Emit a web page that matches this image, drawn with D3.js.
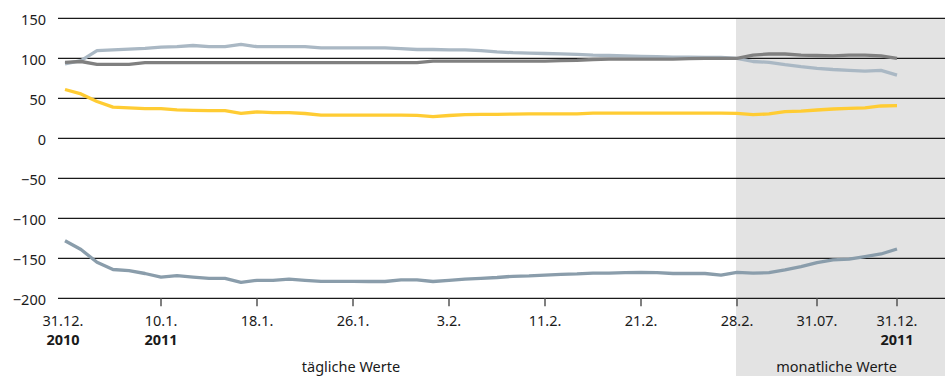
<!DOCTYPE html>
<html>
<head>
<meta charset="utf-8">
<script src="https://cdn.jsdelivr.net/npm/d3@7"></script>
<style>
body { margin: 0; background: #fff; }
svg text { font-family: "Noto Sans", "Open Sans", sans-serif; font-size: 14.5px; fill: #1a1a1a; }
</style>
</head>
<body>
<svg id="chart" width="945" height="376"></svg>
<script>
// 0..41 daily values (31.12.2010 - 28.2.2011), 42..52 monthly values (28.2. - 31.12.2011)
const lightSeries = [93, 97, 109.5, 110.5, 111.5, 112.5, 114, 114.5, 116, 114.5, 114.5, 117.5, 114.5, 114.5, 114.5, 114.5, 113, 113, 113, 113, 113, 112, 111, 111, 110.5, 110.5, 109.5, 108, 107, 106.5, 106, 105.5, 105, 104, 103.5, 103, 102.5, 102, 101.5, 101.5, 101, 101, 100, 96, 95, 92, 89.5, 87.5, 86, 85, 84, 85, 79];
const darkSeries = [95, 96, 92.5, 92.5, 92.5, 94.5, 94.5, 94.5, 94.5, 94.5, 94.5, 94.5, 94.5, 94.5, 94.5, 94.5, 94.5, 94.5, 94.5, 94.5, 94.5, 94.5, 94.5, 96.5, 96.5, 96.5, 96.5, 96.5, 96.5, 96.5, 96.5, 97, 97.5, 98.5, 99, 99, 99, 99, 99, 99.5, 100, 100, 100, 104, 105.4, 105.4, 104, 103.5, 103, 104, 104, 103, 100];
const yellowSeries = [61, 55.5, 46, 39, 38, 37, 37, 35.5, 35, 34.5, 34.5, 31.2, 33, 32, 32, 31, 29, 29, 29, 29, 29, 29, 28.7, 27, 28.5, 29.5, 30, 30, 30.3, 30.5, 30.5, 30.5, 30.5, 31.5, 31.5, 31.5, 31.5, 31.5, 31.5, 31.5, 31.5, 31.5, 31.2, 29.5, 30.5, 33.3, 34, 35.4, 36.6, 37.5, 38, 40.4, 40.8];
const bottomSeries = [-128, -139, -155, -164, -165.5, -169, -173.4, -171.7, -173.4, -175, -175, -180, -177.5, -177.5, -176, -177.5, -178.8, -178.8, -178.8, -179, -179, -177, -177, -179, -177.5, -176, -175, -174, -172.5, -172, -171, -170, -169.5, -168.5, -168.5, -168, -167.5, -168, -169, -169, -169, -171, -167.5, -168.5, -168, -164.6, -160.4, -155.4, -152, -151, -148, -144.6, -138.4];

const tickIndex = [0, 6, 12, 18, 24, 30, 36, 42, 47, 52];
const tickLabels = ["31.12.", "10.1.", "18.1.", "26.1.", "3.2.", "11.2.", "21.2.", "28.2.", "31.07.", "31.12."];
const yearLabels = ["2010", "2011", "", "", "", "", "", "", "", "2011"];
const yTicks = [150, 100, 50, 0, -50, -100, -150, -200];
const monthlyStart = 42;

const series = [
    { values: lightSeries, color: "#aab8c4" },
    { values: darkSeries, color: "#808080" },
    { values: yellowSeries, color: "#ffcc33" },
    { values: bottomSeries, color: "#8a9dab" }
];

const width = 945, height = 376;
const svg = d3.select("#chart");

var x = d3.scaleLinear().domain([0, 52]).range([65, 897]);
var y = d3.scaleLinear().domain([-200, 150]).range([298.3, 18.3]);

// grey background for the monthly part
svg.append("rect")
    .attr("x", x(monthlyStart) - 1)
    .attr("y", y(150))
    .attr("width", width - x(monthlyStart) + 1)
    .attr("height", height - y(150))
    .attr("fill", "#e3e3e3");

svg.append("g").selectAll("line")
    .data(yTicks)
    .enter().append("line")
    .attr("x1", 58)
    .attr("x2", width)
    .attr("y1", d => y(d))
    .attr("y2", d => y(d))
    .attr("stroke", "#1a1a1a")
    .attr("stroke-width", 1.2);

svg.append("g").selectAll("text")
    .data(yTicks)
    .enter().append("text")
    .attr("x", 46)
    .attr("y", d => y(d) + 6.5)
    .attr("text-anchor", "end")
    .text(d => d < 0 ? "\u2212" + Math.abs(d) : d);

// x ticks (none on the first date)
svg.append("g").selectAll("line")
    .data(tickIndex.slice(1))
    .enter().append("line")
    .attr("x1", d => x(d))
    .attr("x2", d => x(d))
    .attr("y1", y(-200))
    .attr("y2", y(-200) + 8)
    .attr("stroke", "#555")
    .attr("stroke-width", 1.5);

svg.append("g").selectAll("text")
    .data(tickIndex)
    .enter().append("text")
    .attr("x", (d, i) => x(d) - (i == 0 ? 2 : 0))
    .attr("y", 326)
    .attr("text-anchor", "middle")
    .text((_, i) => tickLabels[i]);

svg.append("g").selectAll("text")
    .data(tickIndex)
    .enter().append("text")
    .attr("x", (d, i) => x(d) - (i == 0 ? 2 : 0))
    .attr("y", 344.5)
    .attr("text-anchor", "middle")
    .style("font-weight", "bold")
    .text((_, i) => yearLabels[i]);

svg.append("text")
    .attr("x", x(18) - 2)
    .attr("y", 371.5)
    .attr("text-anchor", "middle")
    .text("tägliche Werte");

svg.append("text")
    .attr("x", x(52))
    .attr("y", 371.5)
    .attr("text-anchor", "end")
    .text("monatliche Werte");

var line = d3.line()
    .x((_, i) => x(i))
    .y(d => y(d));

svg.append("g").selectAll("path")
    .data(series)
    .enter().append("path")
    .attr("d", d => line(d.values))
    .attr("fill", "none")
    .attr("stroke", d => d.color)
    .attr("stroke-width", 3.3)
    .attr("stroke-linejoin", "round");
</script>
</body>
</html>
